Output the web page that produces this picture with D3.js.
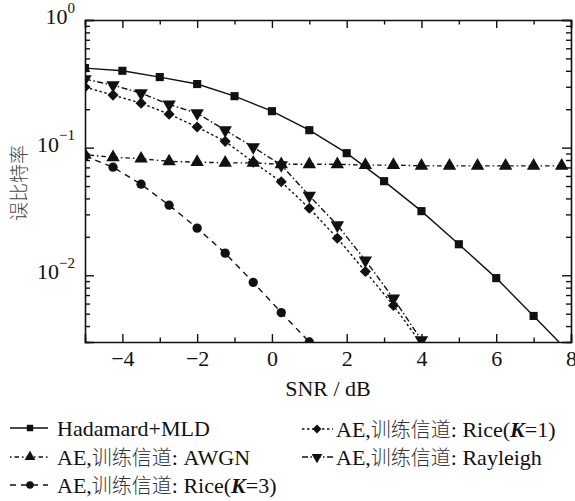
<!DOCTYPE html>
<html>
<head>
<meta charset="utf-8">
<script src="https://cdn.jsdelivr.net/npm/d3@7"></script>
<style>
  html, body { margin: 0; padding: 0; background: #fff; }
  svg { display: block; }
</style>
</head>
<body>
<svg id="chart" width="575" height="501"></svg>
<script>
// SNR grid (dB) for the Hadamard baseline and for the autoencoder curves
const snrInt  = [-5, -4, -3, -2, -1, 0, 1, 2, 3, 4, 5, 6, 7, 8];
const snrFine = [-5, -4.25, -3.5, -2.75, -2, -1.25, -0.5, 0.25, 1, 1.75, 2.5, 3.25, 4, 4.75, 5.5, 6.25, 7, 7.75];

// bit error rate of each scheme
const berHadamard = [0.42, 0.40, 0.357, 0.315, 0.253, 0.193, 0.137, 0.0905, 0.0546, 0.0318, 0.0175, 0.0095, 0.0048, 0.0024];
const berAWGN     = [0.088, 0.084, 0.082, 0.078, 0.077, 0.076, 0.076, 0.074, 0.074, 0.074, 0.073, 0.073, 0.072, 0.072, 0.072, 0.072, 0.072, 0.072];
const berRiceK3   = [0.086, 0.0703, 0.0517, 0.0354, 0.0234, 0.0149, 0.0088, 0.0051, 0.0030, 0.0018];
const berRiceK1   = [0.298, 0.258, 0.223, 0.183, 0.145, 0.112, 0.077, 0.054, 0.0335, 0.0195, 0.0107, 0.0058, 0.0029];
const berRayleigh = [0.344, 0.309, 0.267, 0.218, 0.186, 0.137, 0.101, 0.073, 0.042, 0.0247, 0.0131, 0.0066, 0.0031];

// axis ticks
const xMajor = [-4, -2, 0, 2, 4, 6, 8];
const xMinor = [-5, -3, -1, 1, 3, 5, 7];
const yMajor = [1, 0.1, 0.01];
const yExp   = ["0", "\u22121", "\u22122"];
const yMinor = [0.003, 0.004, 0.005, 0.006, 0.007, 0.008, 0.009,
                0.02, 0.03, 0.04, 0.05, 0.06, 0.07, 0.08, 0.09,
                0.2, 0.3, 0.4, 0.5, 0.6, 0.7, 0.8, 0.9];

const xLabel = "SNR / dB";
const yLabel = "误比特率";

const series = [
  { name: "Hadamard+MLD",            x: snrInt,  y: berHadamard, symbol: "square",   dash: null },
  { name: "AE,训练信道: AWGN",        x: snrFine, y: berAWGN,     symbol: "triangle", dash: "1.5,3,4.5,3" },
  { name: "AE,训练信道: Rice(K=3)",   x: snrFine, y: berRiceK3,   symbol: "circle",   dash: "6,5" },
  { name: "AE,训练信道: Rice(K=1)",   x: snrFine, y: berRiceK1,   symbol: "diamond",  dash: "2.5,2.5" },
  { name: "AE,训练信道: Rayleigh",    x: snrFine, y: berRayleigh, symbol: "tridown",  dash: "6,2.5,1.5,2.5" }
];

const ink = "#111";
const SERIF = "'Liberation Serif', 'Times New Roman', Times, serif";
const CJK = "'Noto Sans CJK SC', 'Noto Sans CJK JP', sans-serif";
const svg = d3.select("#chart");
const L = 85, R = 571, T = 20, B = 342;

const x = d3.scaleLinear().domain([-5, 8]).range([L, R]);
const y = d3.scaleLog().domain([0.003, 1]).range([B, T]);

// clip for curves
svg.append("defs").append("clipPath").attr("id", "plotClip")
  .append("rect").attr("x", L).attr("y", T).attr("width", R - L).attr("height", B - T);

function symbolPath(kind) {
  switch (kind) {
    case "square":   return d3.symbol(d3.symbolSquare, 66)();
    case "triangle": return d3.symbol(d3.symbolTriangle, 78)();
    case "tridown":  return d3.symbol(d3.symbolTriangle, 78)();
    case "circle":   return d3.symbol(d3.symbolCircle, 68)();
    case "diamond":  return d3.symbol(d3.symbolSquare, 62)();
  }
}
function symbolRotate(kind) {
  if (kind === "tridown") return " rotate(180)";
  if (kind === "diamond") return " rotate(45)";
  return "";
}

// curves
const plot = svg.append("g").attr("clip-path", "url(#plotClip)");
const line = d3.line().x(d => x(d[0])).y(d => y(d[1]));
series.forEach(s => {
  const pts = s.x.slice(0, s.y.length).map((v, i) => [v, s.y[i]]);
  plot.append("path")
    .attr("d", line(pts))
    .attr("fill", "none")
    .attr("stroke", ink)
    .attr("stroke-width", 1.4)
    .attr("stroke-dasharray", s.dash);
  plot.selectAll(null).data(pts).join("path")
    .attr("d", symbolPath(s.symbol))
    .attr("transform", d => `translate(${x(d[0])},${y(d[1])})` + symbolRotate(s.symbol))
    .attr("fill", ink);
});

// axes, ticks pointing inward on all four sides
function styleAxis(g) {
  g.attr("font-family", SERIF);
  g.select(".domain").attr("stroke", ink).attr("stroke-width", 1.6);
  g.selectAll(".tick line").attr("stroke", ink).attr("stroke-width", 1.4);
}
const fontSize = 22;
const cjkSize = 20;

const gx = svg.append("g").attr("transform", `translate(0,${B})`)
  .call(d3.axisBottom(x).tickValues(xMajor).tickSize(-8).tickPadding(8).tickFormat(d3.format("d")));
gx.call(styleAxis);
gx.selectAll(".tick text").attr("font-family", SERIF).attr("font-size", fontSize).attr("fill", ink);
svg.append("g").attr("transform", `translate(0,${B})`)
  .call(d3.axisBottom(x).tickValues(xMinor).tickSize(-4.5).tickFormat(""))
  .call(styleAxis).select(".domain").remove();

svg.append("g").attr("transform", `translate(0,${T})`)
  .call(d3.axisTop(x).tickValues(xMajor).tickSize(-8).tickFormat(""))
  .call(styleAxis);
svg.append("g").attr("transform", `translate(0,${T})`)
  .call(d3.axisTop(x).tickValues(xMinor).tickSize(-4.5).tickFormat(""))
  .call(styleAxis).select(".domain").remove();

const gy = svg.append("g").attr("transform", `translate(${L},0)`)
  .call(d3.axisLeft(y).tickValues(yMajor).tickSize(-9).tickPadding(10).tickFormat(() => ""));
gy.call(styleAxis);
gy.selectAll(".tick text").each(function(d, i) {
  const t = d3.select(this).attr("font-family", SERIF).attr("fill", ink).attr("dy", "0.34em");
  t.text(null);
  t.append("tspan").attr("font-size", fontSize).text("10");
  t.append("tspan").attr("font-size", 15).attr("dy", "-0.75em").text(yExp[i]);
});
gy.selectAll(".tick text").attr("x", -10);
svg.append("g").attr("transform", `translate(${L},0)`)
  .call(d3.axisLeft(y).tickValues(yMinor).tickSize(-5).tickFormat(""))
  .call(styleAxis).select(".domain").remove();

svg.append("g").attr("transform", `translate(${R},0)`)
  .call(d3.axisRight(y).tickValues(yMajor).tickSize(-9).tickFormat(""))
  .call(styleAxis);
svg.append("g").attr("transform", `translate(${R},0)`)
  .call(d3.axisRight(y).tickValues(yMinor).tickSize(-5).tickFormat(""))
  .call(styleAxis).select(".domain").remove();

// axis titles
svg.append("text")
  .attr("font-family", SERIF)
  .attr("x", (L + R) / 2).attr("y", 396)
  .attr("text-anchor", "middle").attr("font-size", fontSize).attr("fill", ink)
  .text(xLabel);
svg.append("text")
  .attr("transform", `translate(26,${183}) rotate(-90)`)
  .attr("text-anchor", "middle")
  .attr("font-family", CJK)
  .attr("font-weight", 300)
  .attr("font-size", 19).attr("fill", "#444")
  .text(yLabel);

// legend
const legendPos = [
  { lx0: 10,  lx1: 48,  mx: 30,  tx: 57,  cy: 428 },
  { lx0: 10,  lx1: 48,  mx: 30,  tx: 57,  cy: 457 },
  { lx0: 10,  lx1: 48,  mx: 30,  tx: 57,  cy: 485 },
  { lx0: 302, lx1: 333, mx: 317, tx: 336, cy: 429 },
  { lx0: 302, lx1: 333, mx: 317, tx: 336, cy: 457 }
];

// split a label into Latin / CJK / italic-K runs
function labelRuns(str) {
  const runs = [];
  const re = /(K(?==))|([\u4e00-\u9fff]+)|([^\u4e00-\u9fff]+?)(?=K=|[\u4e00-\u9fff]|$)/g;
  let m;
  while ((m = re.exec(str)) !== null) {
    if (m[0] === "") { re.lastIndex++; continue; }
    if (m[1]) runs.push({ text: m[1], kind: "k" });
    else if (m[2]) runs.push({ text: m[2], kind: "cjk" });
    else runs.push({ text: m[3], kind: "latin" });
  }
  return runs;
}

const legend = svg.append("g");
series.forEach((s, i) => {
  const p = legendPos[i];
  const g = legend.append("g");
  g.append("line")
    .attr("x1", p.lx0).attr("x2", p.lx1).attr("y1", p.cy).attr("y2", p.cy)
    .attr("stroke", ink).attr("stroke-width", 1.4)
    .attr("stroke-dasharray", s.dash);
  g.append("path")
    .attr("d", symbolPath(s.symbol))
    .attr("transform", `translate(${p.mx},${p.cy}) scale(0.8)` + symbolRotate(s.symbol))
    .attr("fill", ink);
  const t = g.append("text")
    .attr("font-family", SERIF)
    .attr("x", p.tx).attr("y", p.cy + 7.5)
    .attr("font-size", fontSize).attr("fill", ink);
  labelRuns(s.name).forEach(r => {
    const ts = t.append("tspan").text(r.text);
    if (r.kind === "cjk") ts.attr("font-family", CJK).attr("font-size", cjkSize)
      .attr("font-weight", 300).attr("fill", "#333");
    if (r.kind === "k") ts.attr("font-style", "italic").attr("font-weight", "bold");
  });
});
</script>
</body>
</html>
